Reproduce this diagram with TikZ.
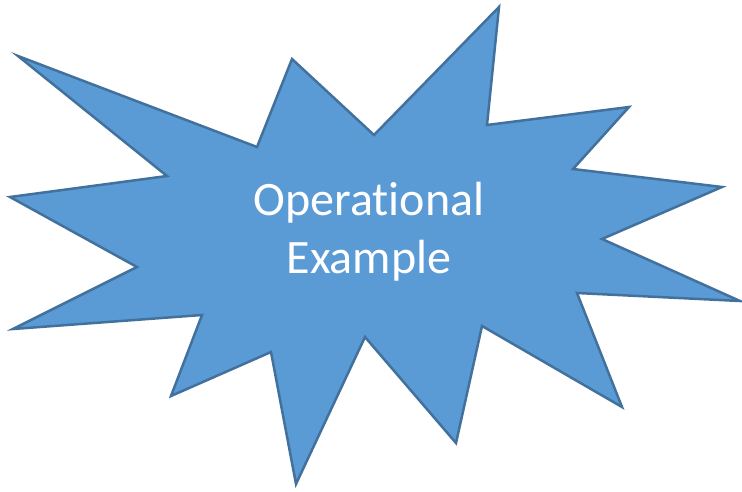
\documentclass[tikz,border=0pt]{standalone}
\usepackage{fontspec}
\setmainfont[Ligatures=NoCommon]{Carlito}
\definecolor{burstfill}{HTML}{5B9BD5}
\definecolor{burstline}{HTML}{41719C}
\tikzset{burst/.style={fill=burstfill,draw=burstline,line width=2.5pt,line join=miter},
  label/.style={text=white,font=\fontsize{48}{58}\selectfont,align=center}}
\begin{document}
\begin{tikzpicture}[x=1pt,y=-1pt]
\useasboundingbox (0,0) rectangle (742,491);
\draw[burst] (18,56) -- (257,147) -- (292,59) -- (374,135) -- (499,7) -- (487,125)
  -- (629,107) -- (573,169) -- (722,187) -- (602,239) -- (740,301) -- (577,293)
  -- (622,407) -- (482,326) -- (456,443) -- (365,337) -- (296,484) -- (271,352)
  -- (171,396) -- (202,315) -- (13,329) -- (137,267) -- (10,197) -- (167,176) -- cycle;
\node[label] (t) at (369,232) {Operational\\Example};
\end{tikzpicture}
\end{document}
